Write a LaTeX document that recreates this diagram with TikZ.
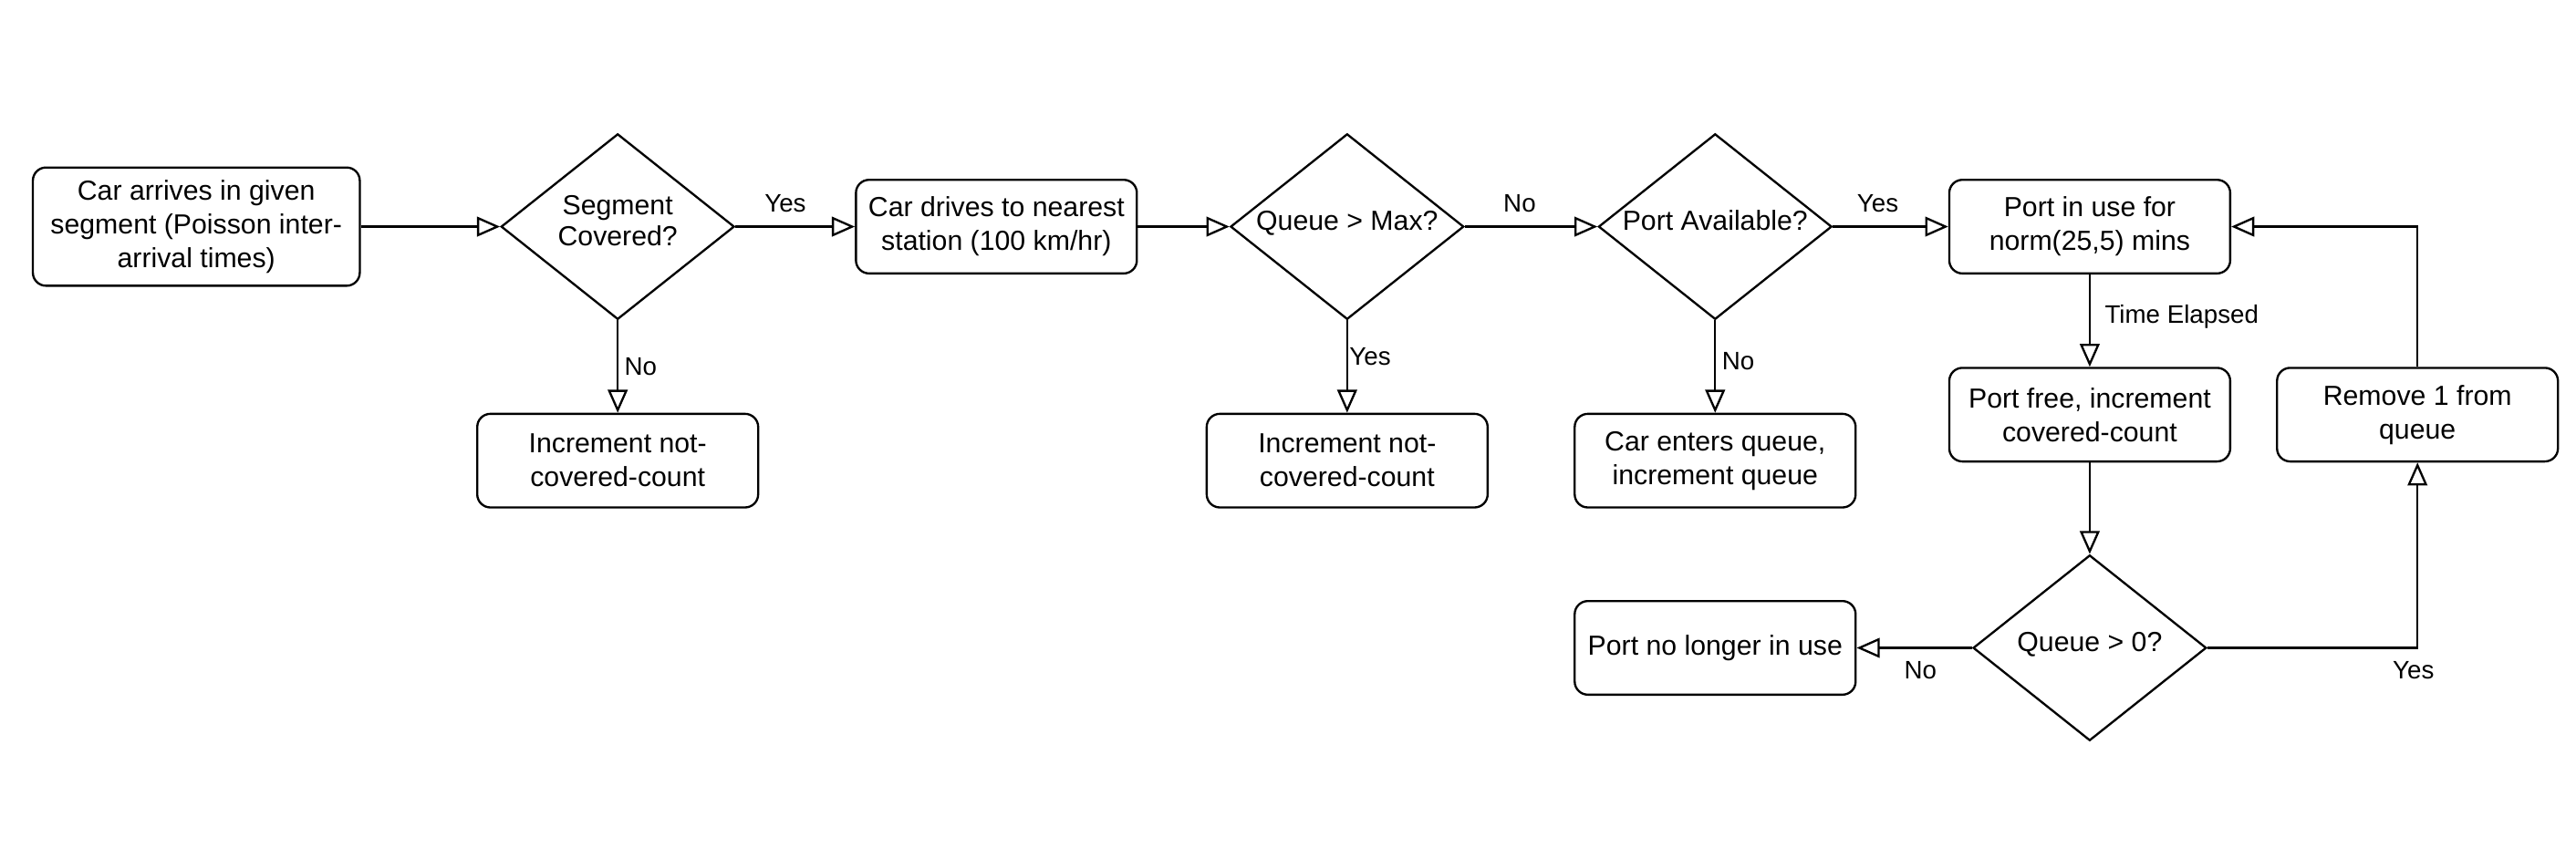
\documentclass[tikz,border=0pt]{standalone}
\usepackage{fontspec}
\setmainfont{Liberation Sans}
\usetikzlibrary{shapes.geometric,arrows.meta}
\newcommand{\dstrut}{\rule[-7.5pt]{0pt}{7.5pt}}
\begin{document}
\begin{tikzpicture}[x=1pt,y=-1pt,
  box/.style={draw, rounded corners=8pt, line width=1.3pt, minimum width=171pt, minimum height=57pt,
    align=center, inner sep=2pt, font=\fontsize{16.8}{20.5}\selectfont},
  dec/.style={draw, diamond, aspect=1.257, minimum width=142pt, minimum height=113pt, inner sep=0pt,
    line width=1.3pt, align=center, font=\fontsize{16.8}{19}\selectfont},
  arr/.style={line width=1.3pt, -{Triangle[open,length=14pt,width=12pt]}},
  lbl/.style={font=\fontsize{15.4}{18}\selectfont, inner sep=0pt}]
\useasboundingbox (0,0) rectangle (1568,516);

\node[box, minimum width=199pt, minimum height=72pt] (b1) at (119.5,138) {Car arrives in given\\segment (Poisson inter-\\arrival times)};
\node[dec] (d1) at (376,138) {Segment\\Covered?\dstrut};
\node[box] (b2) at (606.5,138) {Car drives to nearest\\station (100 km/hr)};
\node[box] (n1) at (376,280.5) {Increment not-\\covered-count};
\node[dec] (d2) at (820,138) {Queue > Max?\dstrut};
\node[box] (n2) at (820,280.5) {Increment not-\\covered-count};
\node[dec] (d3) at (1044,138) {Port Available?\dstrut};
\node[box] (q1) at (1044,280.5) {Car enters queue,\\increment queue};
\node[box] (p1) at (1272,138) {Port in use for\\norm(25,5) mins};
\node[box] (pf) at (1272,252.5) {Port free, increment\\covered-count};
\node[box] (rm) at (1471.5,252.5) {Remove 1 from\\queue};
\node[dec] (d4) at (1272,394.5) {Queue > 0?\dstrut};
\node[box] (pn) at (1044,394.5) {Port no longer in use};

\draw[arr] (b1) -- (d1);
\draw[arr] (d1) -- (b2);
\draw[arr] (d1) -- (n1);
\draw[arr] (b2) -- (d2);
\draw[arr] (d2) -- (d3);
\draw[arr] (d2) -- (n2);
\draw[arr] (d3) -- (q1);
\draw[arr] (d3) -- (p1);
\draw[arr] (p1) -- (pf);
\draw[arr] (pf) -- (d4);
\draw[arr] (d4) -- (pn);
\draw[arr] (d4.east) -| (rm.south);
\draw[arr] (rm.north) |- (p1.east);

\node[lbl] (l1) at (478,124) {Yes};
\node[lbl] (l2) at (390,223) {No};
\node[lbl] (l3) at (925,124) {No};
\node[lbl] (l4) at (834,217) {Yes};
\node[lbl] (l5) at (1058,220) {No};
\node[lbl] (l6) at (1143,124) {Yes};
\node[lbl] (l7) at (1328,193) {Time Elapsed};
\node[lbl] (l8) at (1169,408) {No};
\node[lbl] (l9) at (1469,408) {Yes};
\end{tikzpicture}
\end{document}
